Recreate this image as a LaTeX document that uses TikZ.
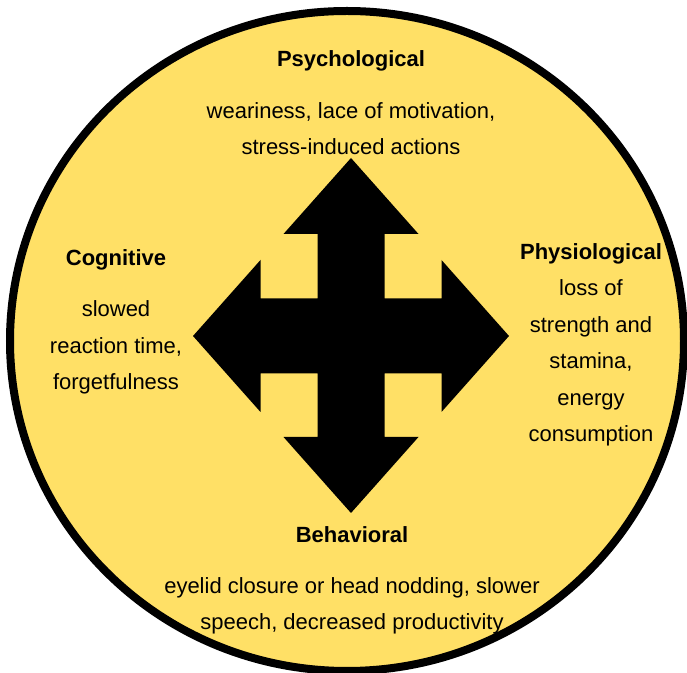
\documentclass[tikz,border=0pt]{standalone}
\usepackage{fontspec}
\setmainfont{Liberation Sans}
\usepackage{tikz}
\usetikzlibrary{calc}
\definecolor{sunyellow}{RGB}{255,224,102}
\tikzstyle{disc} = [draw=black,line width=4pt,fill=sunyellow]
\tikzstyle{cross} = [fill=black]
\tikzstyle{heading} = [font=\fontsize{11}{18.25}\selectfont\bfseries,anchor=base,inner sep=0pt]
\tikzstyle{detail} = [font=\fontsize{11}{18.25}\selectfont,align=center,anchor=base,inner sep=0pt]

\begin{document}
\begin{tikzpicture}[x=0.5pt,y=-0.5pt]
    \useasboundingbox (0,0) rectangle (687,673);
    % the yellow disc
    \path[disc] (347,341) ellipse [x radius=337,y radius=330];

    % four-way arrow in the middle
    \coordinate (hub) at (351,336);
    \path[cross] ($(hub)+(0,-178)$) -- ++(67.5,76) -- ++(-34,0) -- ++(0,64.5)
        -- ++(57,0) -- ++(0,-38.5) -- ($(hub)+(158,0)$) -- ++(-67.5,76) -- ++(0,-38.5)
        -- ++(-57,0) -- ++(0,63.5) -- ++(34,0) -- ($(hub)+(0,177)$) -- ++(-67.5,-76)
        -- ++(34,0) -- ++(0,-63.5) -- ++(-57,0) -- ++(0,38.5) -- ($(hub)+(-158,0)$)
        -- ++(67.5,-76) -- ++(0,38.5) -- ++(57,0) -- ++(0,-64.5) -- ++(-34,0) -- cycle;

    % First we draw the headings
    \foreach \pos/ \name/ \word in {{(351,67)/psy/Psychological},{(116,266)/cog/Cognitive},
        {(591,260)/phy/Physiological},{(352,543)/beh/Behavioral}}
        \node[heading] (\name) at \pos {\word};

    % then the lists under them (base = last line)
    \node[detail] (psytext) at (351,155) {weariness, lace of motivation,\\stress-induced actions};
    \node[detail] (cogtext) at (116,390) {slowed\\reaction time,\\forgetfulness};
    \node[detail] (phytext) at (591,442) {loss of\\strength and\\stamina,\\energy\\consumption};
    \node[detail] (behtext) at (352,630) {eyelid closure or head nodding, slower\\speech, decreased productivity};
\end{tikzpicture}
\end{document}
